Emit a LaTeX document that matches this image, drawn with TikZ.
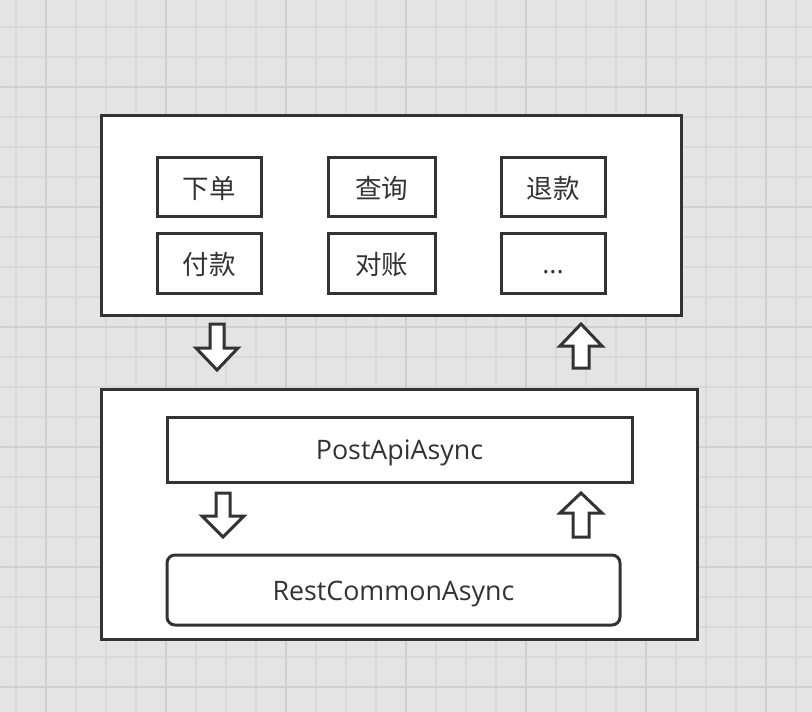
\documentclass[tikz,border=0pt]{standalone}
\usepackage{fontspec}
\setmainfont{Open Sans}
\newfontfamily\cjk{Noto Sans CJK SC}
\definecolor{bg}{HTML}{E4E4E4}
\definecolor{gridminor}{HTML}{D9D9D9}
\definecolor{gridmajor}{HTML}{D0D0D0}
\definecolor{ink}{HTML}{333333}
\tikzset{
  outerbox/.style={draw=ink, line width=3pt, fill=white},
  itembox/.style={draw=ink, line width=3pt, fill=white, inner sep=0pt, text=ink, font=\cjk\fontsize{26.5}{30}\selectfont, text height=25.2pt, text depth=1.3pt},
  apibox/.style={draw=ink, line width=3pt, fill=white, inner sep=0pt, text=ink, font=\fontsize{26.8}{30}\selectfont, text height=21.4pt, text depth=1.3pt},
  blockarrow/.style={draw=ink, line width=3pt, fill=white, line join=miter},
}
\newcommand{\downarrowshape}[5]{% cx, ytop, yhead, ytip, name
  \draw[blockarrow] (#1-7,#2) -- (#1+7,#2) -- (#1+7,#3) -- (#1+21,#3) -- (#1,#4) -- (#1-21,#3) -- (#1-7,#3) -- cycle;
  \coordinate (#5) at (#1,#2);}
\newcommand{\uparrowshape}[5]{% cx, ytip, yhead, ybase, name
  \draw[blockarrow] (#1,#2) -- (#1+21,#3) -- (#1+8,#3) -- (#1+8,#4) -- (#1-8,#4) -- (#1-8,#3) -- (#1-21,#3) -- cycle;
  \coordinate (#5) at (#1,#2);}
\begin{document}
\begin{tikzpicture}[x=1pt,y=-1pt]
\useasboundingbox (0,0) rectangle (812,712);
\fill[bg] (0,0) rectangle (812,712);
\foreach \x in {16,46,...,806} {\draw[gridminor, line width=2pt] (\x,0) -- (\x,712);}
\foreach \y in {27,57,...,707} {\draw[gridminor, line width=2pt] (0,\y) -- (812,\y);}
\foreach \x in {46,166,...,806} {\draw[gridmajor, line width=2pt] (\x,0) -- (\x,712);}
\foreach \y in {87,207,...,707} {\draw[gridmajor, line width=2pt] (0,\y) -- (812,\y);}

% top container
\draw[outerbox] (101,115) rectangle (681,315);
\node[itembox, minimum width=104pt, minimum height=59pt] (xiadan) at (209,186.5) {下单};
\node[itembox, minimum width=107pt, minimum height=59pt] (chaxun) at (381.5,186.5) {查询};
\node[itembox, minimum width=104pt, minimum height=59pt] (tuikuan) at (553,186.5) {退款};
\node[itembox, minimum width=104pt, minimum height=60pt] (fukuan) at (209,263) {付款};
\node[itembox, minimum width=107pt, minimum height=60pt] (duizhang) at (381.5,263) {对账};
\node[apibox, minimum width=104pt, minimum height=60pt] (more) at (553,263) {...};

\downarrowshape{217}{324}{348}{370}{a1}
\uparrowshape{581}{324}{346}{368}{a2}

% bottom container
\draw[outerbox] (101,389) rectangle (697,639);
\node[apibox, minimum width=465pt, minimum height=65pt] (post) at (399.5,449.5) {PostApiAsync};
\downarrowshape{223}{493}{516}{537}{a3}
\uparrowshape{581}{493}{513}{537}{a4}
\node[apibox, rounded corners=8pt, minimum width=453pt, minimum height=70pt] (rest) at (393.5,590) {RestCommonAsync};
\end{tikzpicture}
\end{document}
